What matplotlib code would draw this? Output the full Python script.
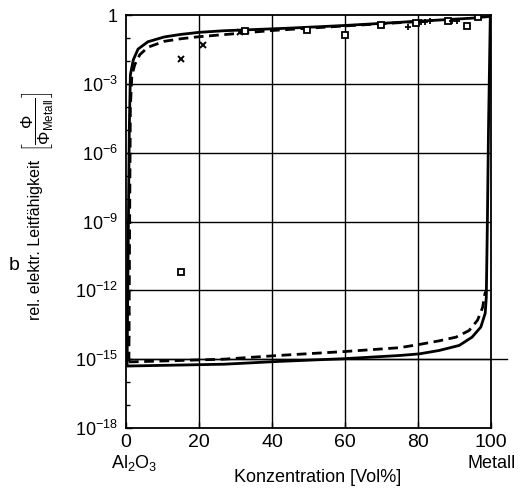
import numpy as np
import matplotlib
matplotlib.use('Agg')
import matplotlib.pyplot as plt

# values (x in Vol%, y as log10 of relative conductivity)
solid_lower_x = [0.0, 10, 26.8, 41.6, 59.6, 74.9, 80.3, 85.8, 91.3, 94.8, 97.2, 98.4, 98.7, 99.0, 99.3, 99.6, 99.8]
solid_lower_y = [-15.3, -15.27, -15.22, -15.1, -14.98, -14.84, -14.77, -14.62, -14.4, -14.04, -13.6, -13.0, -12.3, -9.0, -5.0, -2.0, 0.0]

solid_upper_x = [0.3, 0.6, 0.9, 1.2, 2.0, 3.3, 6.0, 10.5, 15.0, 20.0, 26.8, 44.3, 60.0, 79.5, 95.0, 100.0]
solid_upper_y = [-15.25, -10.0, -5.0, -2.6, -1.95, -1.48, -1.16, -0.95, -0.84, -0.75, -0.68, -0.57, -0.45, -0.27, -0.13, -0.05]

dashed_upper_x = [0.8, 1.0, 1.2, 1.6, 2.4, 3.8, 6.0, 10.5, 15.0, 20.0, 26.8, 40.0, 60.0, 80.0]
dashed_upper_y = [-15.1, -9.0, -4.0, -2.65, -2.16, -1.72, -1.40, -1.14, -1.03, -0.94, -0.85, -0.67, -0.47, -0.28]

dashed_lower_x = [0.8, 10, 26.8, 41.6, 59.6, 74.9, 80.3, 85.8, 90.4, 94.0, 96.3, 97.7, 98.3, 98.7]
dashed_lower_y = [-15.12, -15.08, -15.0, -14.84, -14.67, -14.5, -14.36, -14.2, -14.04, -13.75, -13.3, -12.74, -12.16, -12.0]

cross_x = [15.0, 21.0, 31.3]
cross_y = [-1.93, -1.29, -0.74]

square_x = [15.0, 32.5, 49.5, 60.1, 69.9, 79.4, 88.1, 93.5, 96.3]
square_y = [-11.2, -0.71, -0.64, -0.85, -0.42, -0.35, -0.27, -0.46, -0.09]

plus_x = [77.3, 80.8, 82.0, 83.3, 89.4, 90.8]
plus_y = [-0.52, -0.30, -0.29, -0.27, -0.27, -0.27]

ytick_exp = [0, -3, -6, -9, -12, -15, -18]
xticks = [0, 20, 40, 60, 80, 100]

plt.rcParams['font.family'] = ['Liberation Sans', 'DejaVu Sans']
plt.rcParams['mathtext.fontset'] = 'custom'
plt.rcParams['mathtext.rm'] = 'Liberation Sans'
plt.rcParams['mathtext.it'] = 'Liberation Sans'
plt.rcParams['mathtext.bf'] = 'Liberation Sans:bold'

fig = plt.figure(figsize=(5.2, 4.95), dpi=100)
ax = fig.add_axes([0.2423, 0.1354, 0.702, 0.834])


def lin(v):
    return [10.0 ** e for e in v]


ax.plot(solid_lower_x, lin(solid_lower_y), color='black', lw=2.0, solid_capstyle='round')
ax.plot(solid_upper_x, lin(solid_upper_y), color='black', lw=2.0, solid_capstyle='round')
ax.plot(dashed_upper_x, lin(dashed_upper_y), color='black', lw=2.0, ls=(0, (3.5, 2)))
ax.plot(dashed_lower_x, lin(dashed_lower_y), color='black', lw=2.0, ls=(0, (3.5, 2)))

ax.plot(cross_x, lin(cross_y), ls='none', marker='x', ms=5, mew=1.4, color='black')
ax.plot(square_x, lin(square_y), ls='none', marker='s', ms=5, mew=1.3, mfc='white', mec='black')
ax.plot(plus_x, lin(plus_y), ls='none', marker='+', ms=5, mew=1.3, color='black')

ax.set_yscale('log')
ax.set_xlim(0, 100)
ax.set_ylim(1e-18, 1)

# grid: every third decade and every 20 Vol%
for e in ytick_exp[1:-1]:
    ax.axhline(10.0 ** e, color='black', lw=1.0, zorder=0)
ax.plot([0, 104.5], [1e-15, 1e-15], color='black', lw=1.0, clip_on=False, zorder=0)
for xv in xticks[1:-1]:
    ax.axvline(xv, color='black', lw=1.0, zorder=0)

ax.set_yticks([10.0 ** e for e in ytick_exp])
ax.set_yticklabels(['1' if e == 0 else r'$10^{%d}$' % e for e in ytick_exp], fontsize=13)
ax.set_yticks([10.0 ** e for e in range(-18, 1)], minor=True)
ax.yaxis.set_minor_formatter(matplotlib.ticker.NullFormatter())
ax.set_xticks(xticks)
ax.set_xticklabels([str(v) for v in xticks], fontsize=14)
ax.tick_params(direction='in', length=4, width=1, pad=6)
ax.tick_params(axis='x', pad=4)
ax.tick_params(which='minor', direction='in', length=3, width=1)
for s in ax.spines.values():
    s.set_linewidth(1.3)

fig.text(134 / 520, 1 - 463 / 495, r'Al$_2$O$_3$', fontsize=13, ha='center', va='center')
fig.text(492 / 520, 1 - 463 / 495, 'Metall', fontsize=13, ha='center', va='center')
fig.text(318 / 520, 1 - 477 / 495, 'Konzentration [Vol%]', fontsize=13, ha='center', va='center')
fig.text(36 / 520, 1 - 240 / 495, 'rel. elektr. Leitfähigkeit',
         fontsize=11.5, rotation=90, ha='center', va='center')
fig.text(37 / 520, 1 - 122 / 495, r'$\left[\dfrac{\Phi}{\Phi_{\mathrm{Metall}}}\right]$',
         fontsize=12, rotation=90, ha='center', va='center')
fig.text(14 / 520, 1 - 265 / 495, 'b', fontsize=14, ha='center', va='center')

fig.savefig('out.png', dpi=100)
